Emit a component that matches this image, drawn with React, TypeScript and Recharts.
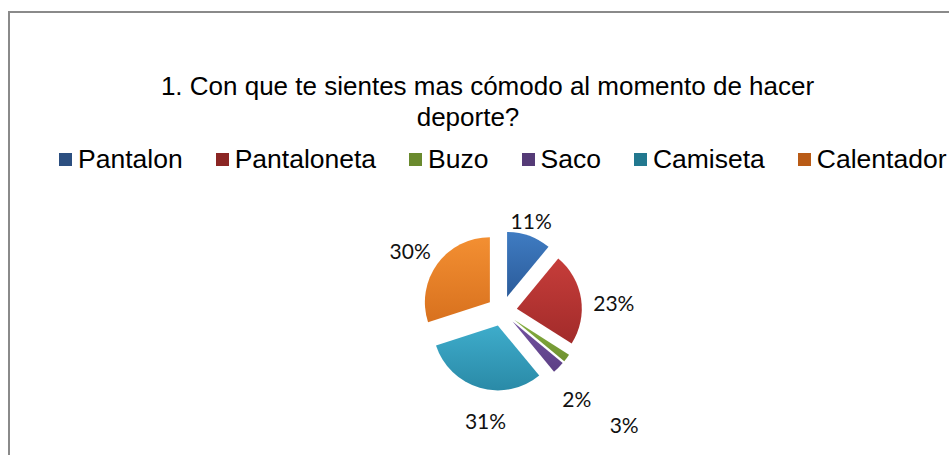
import React from 'react';
import { PieChart, Pie, Cell, Legend } from 'recharts';

const categories = ['Pantalon', 'Pantaloneta', 'Buzo', 'Saco', 'Camiseta', 'Calentador'];
const percents = [11, 23, 2, 3, 31, 30];

// slice gradient (top -> bottom) and the darker legend swatches
const sliceTop = ['#3f7cc2', '#c63d3a', '#86b040', '#7352a0', '#3eaccb', '#f38f32'];
const sliceBottom = ['#2b5b9a', '#a22b2a', '#6f9130', '#5c3f85', '#2a8aa7', '#d8711e'];
const legendColors = ['#2c4f80', '#8b2624', '#6a8a2e', '#553b77', '#22788f', '#b95b16'];

// extra shift for each data label, px
const labelNudge: [number, number][] = [
  [-3, -1],
  [18, 6],
  [-2, 32],
  [55, 46],
  [10, 18],
  [-15, -5],
];

const RADIUS = 65;
const EXPLODE = 15;
const CX = 502;
const CY = 311;
const LABEL_GAP = 15;

const data = categories.map((name, i) => ({ name, value: percents[i] }));
const total = percents.reduce((a, b) => a + b, 0);

const midAngles = percents.map((v, i) => {
  const before = percents.slice(0, i).reduce((a, b) => a + b, 0);
  return 90 - (360 * (before + v / 2)) / total;
});

const RAD = Math.PI / 180;

const makeLabel = (slice: number) => (props: any) => {
  const { cx, cy, midAngle, outerRadius, index, value } = props;
  if (index !== slice) return null;
  const r = outerRadius + LABEL_GAP;
  const x = cx + r * Math.cos(midAngle * RAD) + labelNudge[index][0];
  const y = cy - r * Math.sin(midAngle * RAD) + labelNudge[index][1];
  return (
    <text
      x={x}
      y={y}
      textAnchor="middle"
      dominantBaseline="central"
      fill="#111"
      fontSize={21}
      fontFamily="Lato, 'Open Sans', sans-serif"
    >
      {`${value}%`}
    </text>
  );
};

const LegendRow = () => (
  <div style={{ display: 'flex', alignItems: 'center', paddingLeft: 59 }}>
    {categories.map((c, i) => (
      <div key={c} style={{ display: 'flex', alignItems: 'center', marginRight: 33 }}>
        <span style={{ width: 13, height: 13, background: legendColors[i], display: 'inline-block' }} />
        <span style={{ marginLeft: 6, fontSize: 26.5, lineHeight: '30px', color: '#000' }}>{c}</span>
      </div>
    ))}
  </div>
);

export default function App() {
  return (
    <div
      style={{
        position: 'absolute',
        left: 0,
        top: 0,
        width: 949,
        height: 455,
        overflow: 'hidden',
        background: '#fff',
        fontFamily: "'Liberation Sans', Arial, sans-serif",
      }}
    >
      <svg width={0} height={0} style={{ position: 'absolute' }}>
        <defs>
          {categories.map((c, i) => (
            <linearGradient key={c} id={`g${i}`} x1="0" y1="0" x2="0" y2="1">
              <stop offset="0%" stopColor={sliceTop[i]} />
              <stop offset="100%" stopColor={sliceBottom[i]} />
            </linearGradient>
          ))}
        </defs>
      </svg>
      <div
        style={{
          position: 'absolute',
          left: 8,
          top: 11,
          width: 1000,
          height: 500,
          border: '2px solid #8a8a8a',
        }}
      />
      <div
        style={{
          position: 'absolute',
          left: 0,
          top: 71,
          width: 975,
          textAlign: 'center',
          fontSize: 26,
          lineHeight: '30px',
          color: '#000',
        }}
      >
        1. Con que te sientes mas cómodo al momento de hacer
      </div>
      <div
        style={{
          position: 'absolute',
          left: 0,
          top: 102,
          width: 936,
          textAlign: 'center',
          fontSize: 26,
          lineHeight: '30px',
          color: '#000',
        }}
      >
        deporte?
      </div>
      <div style={{ position: 'absolute', left: 0, top: 0 }}>
        <PieChart width={949} height={455} margin={{ top: 0, right: 0, bottom: 0, left: 0 }}>
          {categories.map((c, i) => (
            <Pie
              key={c}
              data={data}
              dataKey="value"
              nameKey="name"
              cx={CX + EXPLODE * Math.cos(midAngles[i] * RAD)}
              cy={CY - EXPLODE * Math.sin(midAngles[i] * RAD)}
              outerRadius={RADIUS}
              startAngle={90}
              endAngle={-270}
              stroke="none"
              labelLine={false}
              label={makeLabel(i)}
              isAnimationActive={false}
            >
              {data.map((d, j) => (
                <Cell key={d.name} fill={j === i ? `url(#g${i})` : 'none'} stroke="none" />
              ))}
            </Pie>
          ))}
          <Legend
            verticalAlign="middle"
            align="center"
            layout="horizontal"
            content={() => <LegendRow />}
            wrapperStyle={{ top: 144, left: 0, width: 949 }}
          />
        </PieChart>
      </div>
    </div>
  );
}
